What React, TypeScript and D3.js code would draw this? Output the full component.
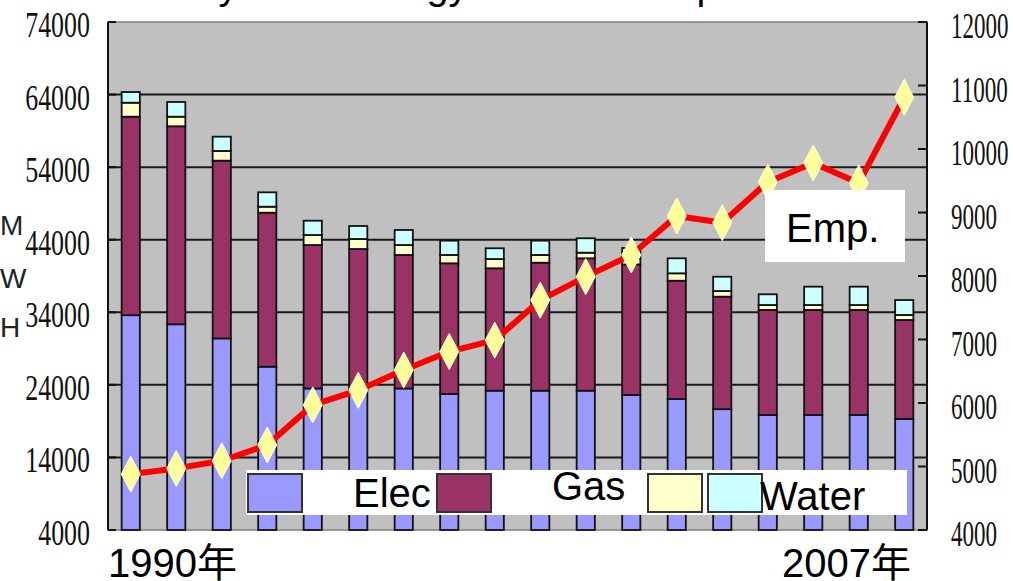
import React from "react";
import * as d3 from "d3";

const years = ["1990","1991","1992","1993","1994","1995","1996","1997","1998","1999","2000","2001","2002","2003","2004","2005","2006","2007"];
const elec = [33600,32350,30400,26500,23500,23300,23500,22750,23200,23200,23200,22600,22050,20650,19850,19850,19850,19300];
const gas = [27350,27280,24490,21220,19770,19420,18400,18000,16860,17630,18240,18000,16300,15500,14470,14470,14470,13640];
const heat = [1930,1320,1340,830,1380,1380,1370,1150,1280,1070,770,800,1020,780,680,680,680,690];
const water = [1470,2030,1970,1980,1970,1790,2070,1970,1480,1970,1990,1460,2070,1970,1480,2530,2530,2060];
const emp = [4880,4970,5090,5340,5970,6200,6520,6810,6990,7620,7990,8330,8945,8840,9480,9780,9465,10815];
const leftTicks = [4000,14000,24000,34000,44000,54000,64000,74000];
const rightTicks = [4000,5000,6000,7000,8000,9000,10000,11000,12000];
const seriesKeys = ["elec","gas","heat","water"];
const seriesColors = ["#9999FF","#993366","#FFFFCC","#CCFFFF"];
const titleText = "Yearly Total Energy Use and Emp.";
const xFirst = "1990年";
const xLast = "2007年";

const W = 1013, H = 581;
const L = 108, R = 927, T = 22, B = 530;

export default function App() {
  const rows = years.map((y, i) => ({ year: y, elec: elec[i], gas: gas[i], heat: heat[i], water: water[i] }));
  const x = d3.scaleBand<string>().domain(years).range([L, R]).paddingInner(0.6).paddingOuter(0.3);
  const yL = d3.scaleLinear().domain([4000, 74000]).range([B, T]);
  const yR = d3.scaleLinear().domain([4000, 12000]).range([B, T]);
  const stack = d3.stack<any>().keys(seriesKeys)(rows);
  const cx = (yr: string) => (x(yr) as number) + x.bandwidth() / 2;
  const line = d3.line<number>().x((_, i) => cx(years[i])).y((d) => yR(d))(emp) as string;
  const diamond = "M0,-18L9.5,0L0,18L-9.5,0Z";
  const numFont = "'Liberation Serif', serif";
  const sansFont = "'Liberation Sans', Arial, 'Noto Sans CJK JP', sans-serif";
  const sx = 0.64;

  return (
    <svg width={W} height={H} style={{ position: "absolute", left: 0, top: 0, background: "#fff" }}>
      <text x={130} y={-1} fontFamily={sansFont} fontSize={39.5} fill="#000">{titleText}</text>
      <rect x={L} y={T} width={R - L} height={B - T} fill="#C0C0C0" stroke="#808080" strokeWidth={1.5} />
      {leftTicks.slice(1, -1).map((t) => (
        <line key={"g" + t} x1={L} x2={R} y1={yL(t)} y2={yL(t)} stroke="#1a1a1a" strokeWidth={2} />
      ))}
      {stack.map((s, si) => (
        <g key={s.key}>
          {s.map((d, i) => {
            const y0 = yL(Math.max(d[0], 4000));
            const y1 = yL(Math.max(d[1], 4000));
            return (
              <rect key={i} x={x(years[i])} y={y1} width={x.bandwidth()} height={Math.max(0, y0 - y1)}
                fill={seriesColors[si]} stroke="#111" strokeWidth={1.8} />
            );
          })}
        </g>
      ))}
      <line x1={L} x2={L} y1={T} y2={B} stroke="#111" strokeWidth={2} />
      {leftTicks.map((t) => (
        <line key={"lt" + t} x1={L} x2={L + 8} y1={yL(t)} y2={yL(t)} stroke="#111" strokeWidth={2} />
      ))}
      <line x1={R} x2={R} y1={T} y2={B} stroke="#111" strokeWidth={2} />
      {rightTicks.map((t) => (
        <line key={"rt" + t} x1={R - 9} x2={R} y1={yR(t)} y2={yR(t)} stroke="#111" strokeWidth={2} />
      ))}
      <path d={line} fill="none" stroke="#FF0000" strokeWidth={6} strokeLinejoin="round" />
      {emp.map((v, i) => (
        <path key={"d" + i} d={diamond} transform={`translate(${cx(years[i])},${yR(v)})`} fill="#FFFF99" stroke="#FFFFDD" strokeWidth={1} />
      ))}
      {leftTicks.map((t) => (
        <text key={"ll" + t} transform={`translate(90,${yL(t) + 15}) scale(${sx + 0.08},1)`} textAnchor="end"
          fontFamily={numFont} fontSize={36} fill="#111">{t}</text>
      ))}
      {rightTicks.map((t) => (
        <text key={"rl" + t} transform={`translate(951,${yR(t) + 16}) scale(${sx},1)`}
          fontFamily={numFont} fontSize={36} fill="#111">{t}</text>
      ))}
      <text x={0} y={235} fontFamily={sansFont} fontSize={28} fill="#222">M</text>
      <text x={0} y={288} fontFamily={sansFont} fontSize={28} fill="#222">W</text>
      <text x={0} y={337} fontFamily={sansFont} fontSize={28} fill="#222">H</text>
      <text x={108} y={577} fontFamily={sansFont} fontSize={40} fill="#000">{xFirst}</text>
      <text x={782} y={577} fontFamily={sansFont} fontSize={40} fill="#000">{xLast}</text>
      <rect x={765} y={190} width={140} height={72} fill="#fff" />
      <text x={786} y={242} fontFamily={sansFont} fontSize={40} fill="#000">Emp.</text>
      <rect x={246} y={470} width={661} height={45} fill="#fff" />
      {[248, 437, 648, 708].map((lx, i) => (
        <rect key={"sw" + i} x={lx} y={474} width={54} height={38} fill={seriesColors[i]} stroke="#333" strokeWidth={2} />
      ))}
      <text x={353} y={507} fontFamily={sansFont} fontSize={40} fill="#000">Elec</text>
      <text x={552} y={500} fontFamily={sansFont} fontSize={40} fill="#000">Gas</text>
      <text x={760} y={510} fontFamily={sansFont} fontSize={40} fill="#000">Water</text>
    </svg>
  );
}
